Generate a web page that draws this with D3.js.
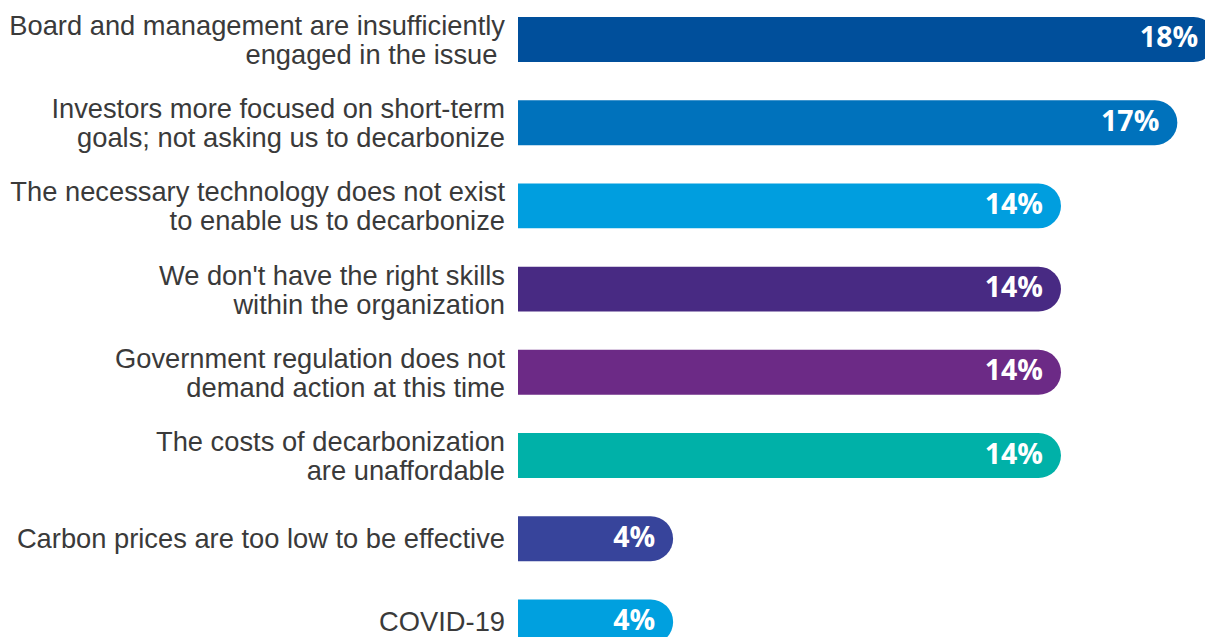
<!DOCTYPE html>
<html>
<head>
<meta charset="utf-8">
<script src="https://cdn.jsdelivr.net/npm/d3@7"></script>
<style>
  html, body { margin: 0; padding: 0; background: #fff; overflow: hidden; }
  svg { display: block; }
</style>
</head>
<body>
<svg id="chart" width="1205" height="637"></svg>
<script>
// barreras para descarbonizar (valores en %)
const categories = [
    ["Board and management are insufficiently", "engaged in the issue "],
    ["Investors more focused on short-term", "goals; not asking us to decarbonize"],
    ["The necessary technology does not exist", "to enable us to decarbonize"],
    ["We don't have the right skills", "within the organization"],
    ["Government regulation does not", "demand action at this time"],
    ["The costs of decarbonization", "are unaffordable"],
    ["Carbon prices are too low to be effective"],
    ["COVID-19"]
];
const values = [18, 17, 14, 14, 14, 14, 4, 4];
const colors = ["#004f9b", "#0072bc", "#009edf", "#482a83", "#6c2a86", "#00b1a8", "#37449b", "#00a0df"];

const svg = d3.select("#chart");

const x = d3.scaleLinear()
    .domain([0, 14])
    .range([518, 1061]);

const y = d3.scaleBand()
    .domain(d3.range(values.length))
    .range([17, 644.4])
    .paddingInner(0.46)
    .paddingOuter(0);

const h = y.bandwidth();
const r = h / 2;

// barra con el extremo derecho redondeado
function barPath(i) {
    const x0 = x(0), x1 = x(values[i]), y0 = y(i);
    return `M${x0},${y0}H${x1 - r}A${r},${r} 0 0 1 ${x1 - r},${y0 + h}H${x0}Z`;
}

svg.append("g")
    .selectAll("path")
    .data(values)
    .enter()
    .append("path")
    .attr("d", (d, i) => barPath(i))
    .attr("fill", (d, i) => colors[i]);

// etiquetas de porcentaje
svg.append("g")
    .selectAll("text")
    .data(values)
    .enter()
    .append("text")
    .attr("x", d => x(d) - 18)
    .attr("y", (d, i) => y(i) + h / 2 + 8)
    .attr("text-anchor", "end")
    .style("font-family", "'Open Sans', sans-serif")
    .style("font-weight", "bold")
    .style("font-size", "28.5px")
    .style("fill", "#fff")
    .text(d => d + "%");

// etiquetas de categoría (una o dos líneas)
const labels = svg.append("g")
    .selectAll("text")
    .data(categories)
    .enter()
    .append("text")
    .attr("text-anchor", "end")
    .style("font-family", "'Liberation Sans', Arial, sans-serif")
    .style("font-size", "27.3px")
    .style("fill", "#3a3a3a")
    .style("white-space", "pre");

labels.each(function(lines, i) {
    const c = y(i) + h / 2;
    const t = d3.select(this);
    if (lines.length === 1) {
        t.append("tspan").attr("x", 505).attr("y", c + 9).text(lines[0]);
    } else {
        t.append("tspan").attr("x", 505).attr("y", c - 4.5).text(lines[0]);
        t.append("tspan").attr("x", 505).attr("y", c + 24.5).text(lines[1]);
    }
});
</script>
</body>
</html>
